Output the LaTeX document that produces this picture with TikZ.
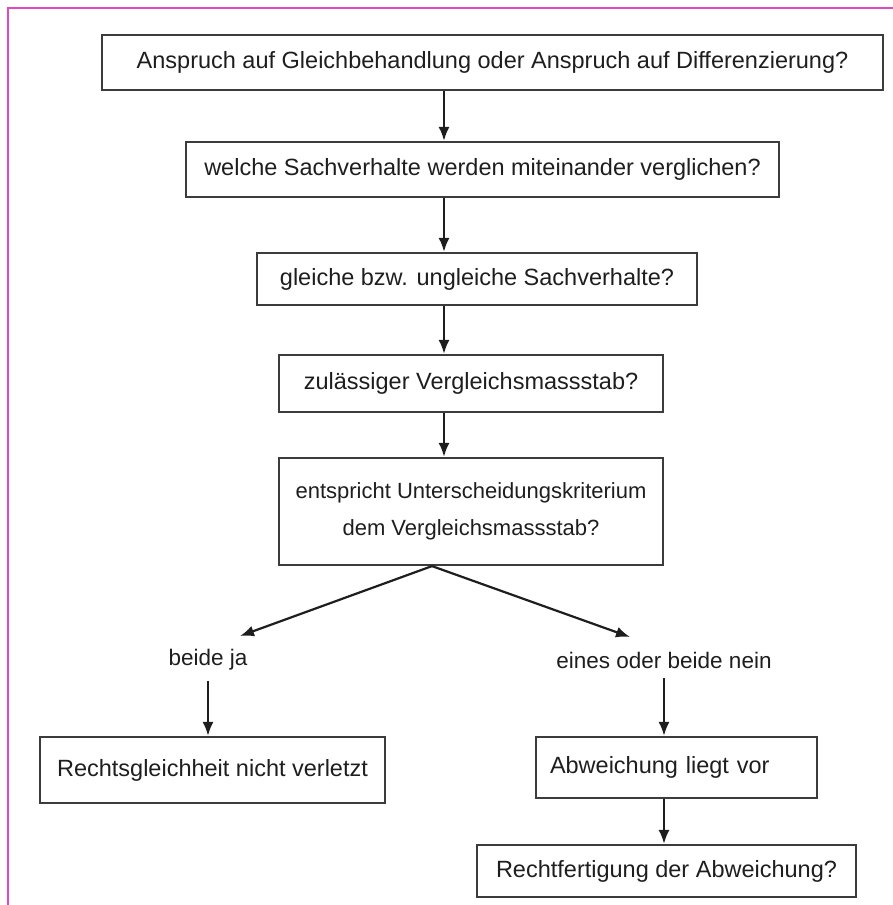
\documentclass[tikz,border=0pt]{standalone}
\usepackage{fontspec}
\setmainfont{Liberation Sans}
\usepackage{xcolor}
\usetikzlibrary{arrows.meta}

\definecolor{rahmen}{RGB}{226,72,196}
\definecolor{linie}{RGB}{60,60,60}
\definecolor{schrift}{RGB}{30,30,30}

\begin{document}
\begin{tikzpicture}[x=1pt,y=-1pt,
        frage/.style={draw=linie,line width=2.2pt,inner sep=0pt,text=schrift,
            font=\fontsize{23.5}{36}\selectfont,align=center},
        zweig/.style={inner xsep=2pt,inner ysep=10pt,text=schrift,font=\fontsize{22.5}{26}\selectfont},
        pfeil/.style={draw=schrift,line width=2.2pt,-{Latex[length=14pt,width=11pt]}}]
        \useasboundingbox (0,0) rectangle (893,905);
        \draw[line width=2.2pt,draw=rahmen] (8,905) -- (8,8) -- (893,8);

        \coordinate (stamm) at (444,0);
        \coordinate (gabel) at (432,0);
        \coordinate (jaSpitze) at (240,636);
        \coordinate (neinSpitze) at (630,637);

        \node[frage,minimum width=781pt,minimum height=55pt] (anspruch) at (492.5,62.5)
            {Anspruch auf Gleichbehandlung oder Anspruch auf Differenzierung?};
        \node[frage,minimum width=593pt,minimum height=55pt] (welche) at (482.5,169.5)
            {welche Sachverhalte werden miteinander verglichen?};
        \node[frage,minimum width=440pt,minimum height=52pt] (gleich) at (477,279)
            {gleiche bzw. ungleiche Sachverhalte?};
        \node[frage,minimum width=384pt,minimum height=57pt] (massstab) at (471,383.5)
            {zulässiger Vergleichsmassstab?};
        \node[frage,minimum width=384pt,minimum height=107pt,font=\fontsize{22}{37}\selectfont] (kriterium) at (471,511.5)
            {entspricht Unterscheidungskriterium\\dem Vergleichsmassstab?};

        \node[zweig] (ja) at (208,660) {beide ja};
        \node[zweig] (nein) at (664,660) {eines oder beide nein};

        \node[frage,minimum width=345pt,minimum height=66pt] (verletzt) at (212.5,770)
            {Rechtsgleichheit nicht verletzt};
        \node[frage,inner xsep=14pt,text width=253pt,align=left,minimum height=61pt] (abweichung) at (676.5,767.5)
            {Abweichung liegt vor};
        \node[frage,minimum width=379pt,minimum height=52pt] (rechtfertigung) at (666.5,871)
            {Rechtfertigung der Abweichung?};

        \foreach \oben/\unten in {anspruch/welche,welche/gleich,gleich/massstab,massstab/kriterium}
            \draw[pfeil] (\oben.south -| stamm) -- (\unten.north -| stamm);

        \draw[pfeil] (kriterium.south -| gabel) -- (jaSpitze);
        \draw[pfeil] (kriterium.south -| gabel) -- (neinSpitze);

        \draw[pfeil] (ja.south) -- (ja.south |- verletzt.north);
        \draw[pfeil] (nein.south) -- (nein.south |- abweichung.north);
        \draw[pfeil] (abweichung.south -| nein) -- (rechtfertigung.north -| nein);
\end{tikzpicture}
\end{document}
